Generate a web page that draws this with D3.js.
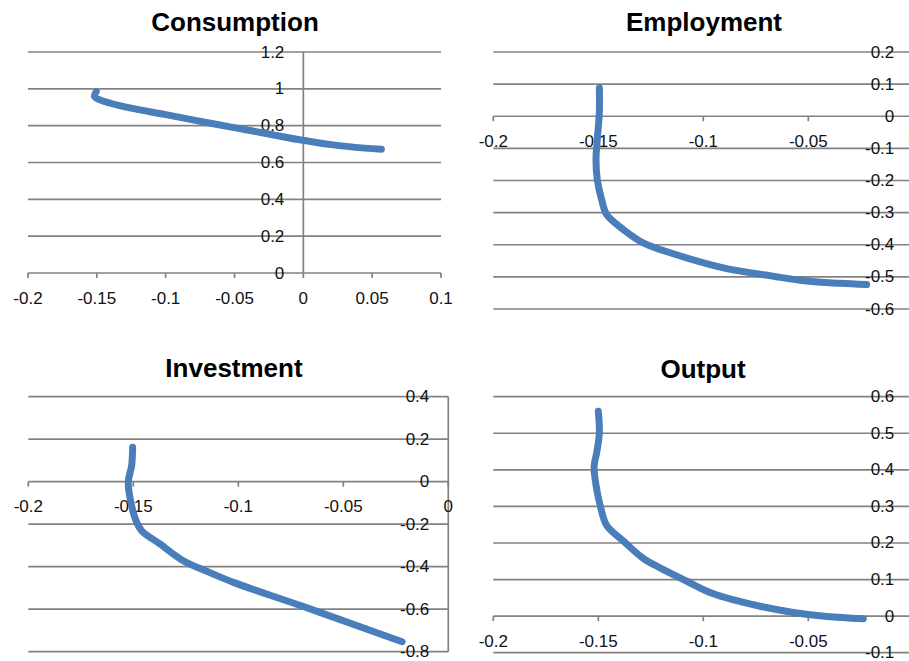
<!DOCTYPE html>
<html>
<head>
<meta charset="utf-8">
<script src="https://cdn.jsdelivr.net/npm/d3@7"></script>
<style>
  html, body { margin: 0; padding: 0; background: #fff; }
  svg { display: block; font-family: "Liberation Sans", Arial, Helvetica, sans-serif; }
</style>
</head>
<body>
<svg id="chart" width="909" height="661"></svg>
<script>
// Four Excel-style scatter panels (smoothed lines).

// --- data -------------------------------------------------------------
const consX = [-0.1504, -0.1517, -0.1444, -0.125, -0.1008, -0.0765, -0.0523, -0.028, -0.0039, 0.0203, 0.0446, 0.0567];
const consY = [0.985, 0.958, 0.931, 0.895, 0.861, 0.826, 0.792, 0.759, 0.725, 0.697, 0.678, 0.672];

const empX = [-0.1495, -0.1495, -0.1505, -0.1511, -0.1505, -0.1484, -0.146, -0.138, -0.1286, -0.1143, -0.0905, -0.0667, -0.0508, -0.0349, -0.0222];
const empY = [0.088, 0.011, -0.073, -0.135, -0.197, -0.26, -0.306, -0.353, -0.394, -0.428, -0.472, -0.498, -0.513, -0.520, -0.524];

const invX = [-0.1503, -0.1508, -0.1524, -0.1508, -0.1484, -0.146, -0.1373, -0.1262, -0.1135, -0.102, -0.070, -0.039, -0.022];
const invY = [0.162, 0.075, -0.003, -0.113, -0.191, -0.231, -0.293, -0.372, -0.428, -0.475, -0.584, -0.693, -0.753];

const outX = [-0.150, -0.1495, -0.1508, -0.152, -0.151, -0.149, -0.146, -0.138, -0.1286, -0.1206, -0.108, -0.0952, -0.073, -0.0571, -0.0412, -0.0238];
const outY = [0.56, 0.501, 0.446, 0.41, 0.355, 0.30, 0.248, 0.205, 0.158, 0.132, 0.096, 0.061, 0.027, 0.010, -0.001, -0.007];

// tick values
const consXTicks = [-0.2, -0.15, -0.1, -0.05, 0, 0.05, 0.1];
const consYTicks = [0, 0.2, 0.4, 0.6, 0.8, 1, 1.2];
const negXTicks  = [-0.2, -0.15, -0.1, -0.05, 0];
const empYTicks  = [0.2, 0.1, 0, -0.1, -0.2, -0.3, -0.4, -0.5, -0.6];
const invYTicks  = [0.4, 0.2, 0, -0.2, -0.4, -0.6, -0.8];
const outYTicks  = [0.6, 0.5, 0.4, 0.3, 0.2, 0.1, 0, -0.1];

// --- layout -----------------------------------------------------------
const PANELS = [
  { title: 'Consumption', xs: consX, ys: consY, xTicks: consXTicks, yTicks: consYTicks,
    xDomain: [-0.2, 0.1], xRange: [28, 441], yDomain: [0, 1.2], yRange: [273, 52], titlePos: [235, 22] },
  { title: 'Employment', xs: empX, ys: empY, xTicks: negXTicks, yTicks: empYTicks,
    xDomain: [-0.2, 0], xRange: [493.3, 913.3], yDomain: [-0.6, 0.2], yRange: [309, 52], titlePos: [704, 22] },
  { title: 'Investment', xs: invX, ys: invY, xTicks: negXTicks, yTicks: invYTicks,
    xDomain: [-0.2, 0], xRange: [28.3, 448.3], yDomain: [-0.8, 0.4], yRange: [651.7, 396.7], titlePos: [234, 368] },
  { title: 'Output', xs: outX, ys: outY, xTicks: negXTicks, yTicks: outYTicks,
    xDomain: [-0.2, 0], xRange: [493.3, 913.3], yDomain: [-0.1, 0.6], yRange: [652.7, 396.7], titlePos: [703, 369] },
];

const GRID = '#828282';
const LINE = '#4a7ebb';

const svg = d3.select('#chart');
PANELS.forEach(drawPanel);

function drawPanel(p) {
  const x = d3.scaleLinear().domain(p.xDomain).range(p.xRange);
  const y = d3.scaleLinear().domain(p.yDomain).range(p.yRange);
  const g = svg.append('g').attr('class', 'panel');
  const [x0, x1] = x.range();

  // horizontal gridlines
  g.selectAll('line.grid')
    .data(p.yTicks)
    .enter().append('line')
      .attr('class', 'grid')
      .attr('x1', x0).attr('x2', x1)
      .attr('y1', d => y(d)).attr('y2', d => y(d))
      .attr('stroke', GRID).attr('stroke-width', 1.7);

  // vertical axis at x = 0
  const yExt = d3.extent(p.yTicks);
  g.append('line')
    .attr('x1', x(0)).attr('x2', x(0))
    .attr('y1', y(yExt[1])).attr('y2', y(yExt[0]))
    .attr('stroke', GRID).attr('stroke-width', 1.7);

  // small tick marks on the horizontal axis (y = 0)
  g.selectAll('line.xtick')
    .data(p.xTicks)
    .enter().append('line')
      .attr('class', 'xtick')
      .attr('x1', d => x(d)).attr('x2', d => x(d))
      .attr('y1', y(0)).attr('y2', y(0) + 5)
      .attr('stroke', GRID).attr('stroke-width', 1.7);

  // y labels sit just left of the vertical axis
  g.selectAll('text.ylab')
    .data(p.yTicks)
    .enter().append('text')
      .attr('class', 'ylab')
      .attr('x', x(0) - 19).attr('y', d => y(d))
      .attr('text-anchor', 'end').attr('dominant-baseline', 'central')
      .attr('font-size', 17).attr('fill', '#111')
      .text(d => String(d));

  // x labels below the horizontal axis
  g.selectAll('text.xlab')
    .data(p.xTicks)
    .enter().append('text')
      .attr('class', 'xlab')
      .attr('x', d => x(d)).attr('y', y(0) + 25)
      .attr('text-anchor', 'middle').attr('dominant-baseline', 'central')
      .attr('font-size', 17).attr('fill', '#111')
      .text(d => String(d));

  // series
  const pts = p.xs.map((v, i) => [v, p.ys[i]]);
  const line = d3.line()
    .x(d => x(d[0])).y(d => y(d[1]))
    .curve(d3.curveCatmullRom.alpha(0.5));
  g.append('path')
    .attr('d', line(pts))
    .attr('fill', 'none')
    .attr('stroke', LINE).attr('stroke-width', 7)
    .attr('stroke-linecap', 'round').attr('stroke-linejoin', 'round');

  // title
  g.append('text')
    .attr('x', p.titlePos[0]).attr('y', p.titlePos[1])
    .attr('text-anchor', 'middle').attr('dominant-baseline', 'central')
    .attr('font-size', 26).attr('font-weight', 'bold').attr('fill', '#000')
    .text(p.title);
}
</script>
</body>
</html>
